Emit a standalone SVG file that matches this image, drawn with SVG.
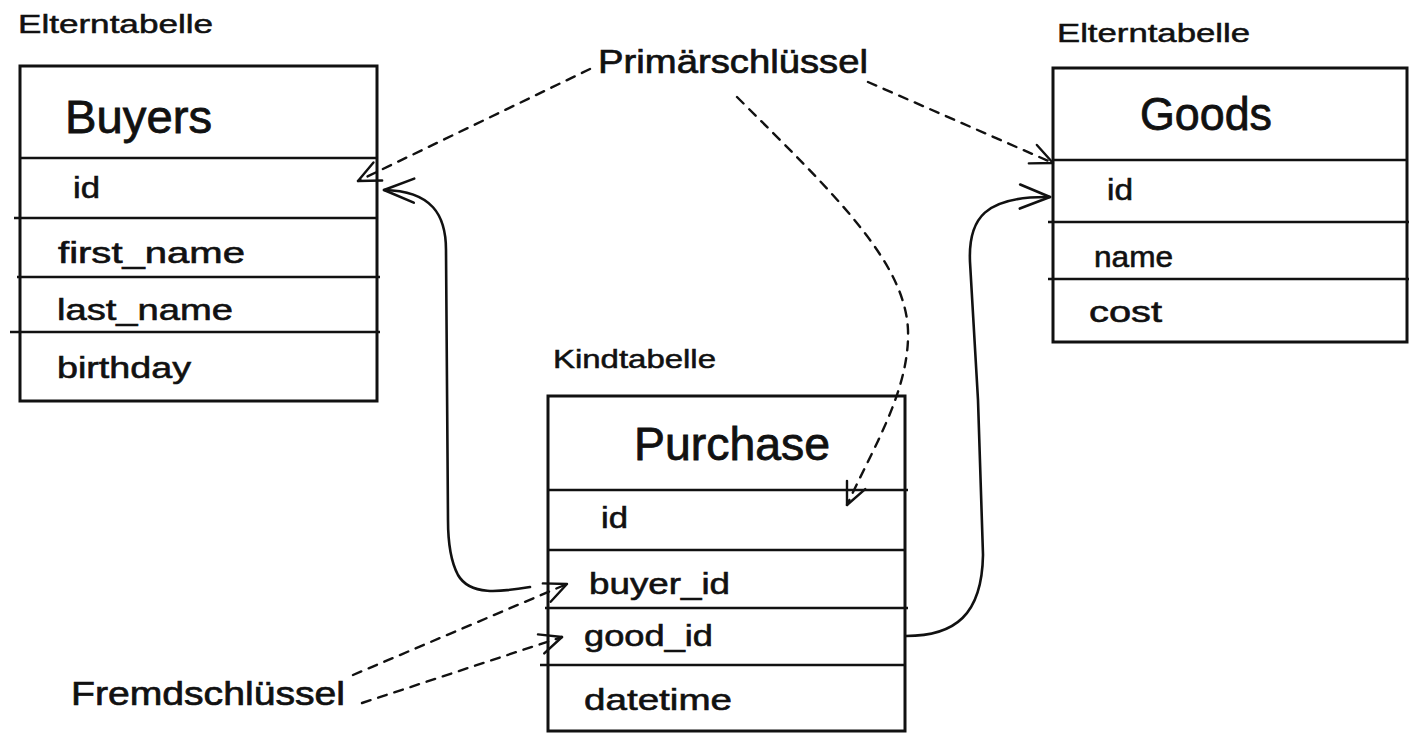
<svg xmlns="http://www.w3.org/2000/svg" width="1409" height="736" viewBox="0 0 1409 736">
<style>
text{font-family:"Liberation Sans","DejaVu Sans",sans-serif;fill:#111;stroke:#111;stroke-width:0.5}
.lbl{font-size:25px}
.ttl{font-size:46px;stroke-width:0.8}
.row{font-size:30px;stroke-width:0.6}
.note{font-size:34px;stroke-width:0.7}
.box{fill:#fff;stroke:#111;stroke-width:3}
.ln{stroke:#111;stroke-width:2.6;fill:none}
.conn{fill:none;stroke:#111;stroke-width:2.6;stroke-linecap:round}
.dash{stroke-dasharray:9 8;stroke-width:2.4}
</style>
<defs>
<marker id="arrL" markerUnits="userSpaceOnUse" viewBox="0 0 34 28" markerWidth="34" markerHeight="28" refX="32" refY="14" orient="auto">
<path d="M2 2 L32 14 L2 26" fill="none" stroke="#111" stroke-width="2.6" stroke-linecap="round" stroke-linejoin="round"/>
</marker>
<marker id="arrS" markerUnits="userSpaceOnUse" viewBox="0 0 26 24" markerWidth="26" markerHeight="24" refX="24" refY="12" orient="auto">
<path d="M2 2 L24 12 L2 22" fill="none" stroke="#111" stroke-width="2.4" stroke-linecap="round" stroke-linejoin="round"/>
</marker>
</defs>
<rect width="1409" height="736" fill="#fff"/>

<g id="buyers">
<text class="lbl" x="18" y="33" textLength="195" lengthAdjust="spacingAndGlyphs">Elterntabelle</text>
<rect class="box" x="20" y="66" width="357" height="335"/>
<line class="ln" x1="20" y1="158" x2="377" y2="158"/>
<line class="ln" x1="14" y1="218" x2="377" y2="218"/>
<line class="ln" x1="17" y1="277" x2="380" y2="277"/>
<line class="ln" x1="10" y1="332" x2="380" y2="332"/>
<text class="ttl" x="65" y="133" textLength="147" lengthAdjust="spacingAndGlyphs">Buyers</text>
<text class="row" x="73" y="198" textLength="27" lengthAdjust="spacingAndGlyphs">id</text>
<text class="row" x="58" y="263" textLength="187" lengthAdjust="spacingAndGlyphs">first_name</text>
<text class="row" x="57" y="320" textLength="176" lengthAdjust="spacingAndGlyphs">last_name</text>
<text class="row" x="57" y="378" textLength="134" lengthAdjust="spacingAndGlyphs">birthday</text>
</g>

<g id="goods">
<text class="lbl" x="1057" y="42" textLength="193" lengthAdjust="spacingAndGlyphs">Elterntabelle</text>
<rect class="box" x="1053" y="68" width="354" height="274"/>
<line class="ln" x1="1053" y1="160" x2="1407" y2="160"/>
<line class="ln" x1="1048" y1="222" x2="1409" y2="222"/>
<line class="ln" x1="1048" y1="279" x2="1409" y2="279"/>
<text class="ttl" x="1140" y="130" textLength="132" lengthAdjust="spacingAndGlyphs">Goods</text>
<text class="row" x="1107" y="200" textLength="26" lengthAdjust="spacingAndGlyphs">id</text>
<text class="row" x="1094" y="267" textLength="79" lengthAdjust="spacingAndGlyphs">name</text>
<text class="row" x="1089" y="322" textLength="73" lengthAdjust="spacingAndGlyphs">cost</text>
</g>

<g id="purchase">
<text class="lbl" x="553" y="368" textLength="163" lengthAdjust="spacingAndGlyphs">Kindtabelle</text>
<rect class="box" x="548" y="396" width="357" height="335"/>
<line class="ln" x1="548" y1="490" x2="908" y2="490"/>
<line class="ln" x1="548" y1="550" x2="905" y2="550"/>
<line class="ln" x1="545" y1="608" x2="908" y2="608"/>
<line class="ln" x1="540" y1="665" x2="906" y2="665"/>
<text class="ttl" x="634" y="460" textLength="196" lengthAdjust="spacingAndGlyphs">Purchase</text>
<text class="row" x="601" y="528" textLength="27" lengthAdjust="spacingAndGlyphs">id</text>
<text class="row" x="589" y="594" textLength="141" lengthAdjust="spacingAndGlyphs">buyer_id</text>
<text class="row" x="584" y="646" textLength="129" lengthAdjust="spacingAndGlyphs">good_id</text>
<text class="row" x="584" y="710" textLength="148" lengthAdjust="spacingAndGlyphs">datetime</text>
</g>

<g id="primaerschluessel">
<text class="note" x="598" y="73" textLength="270" lengthAdjust="spacingAndGlyphs">Primärschlüssel</text>
</g>

<g id="fremdschluessel">
<text class="note" x="71" y="705" textLength="274" lengthAdjust="spacingAndGlyphs">Fremdschlüssel</text>
</g>

<g id="connectors">
<path class="conn dash" d="M590 69 L358 181" marker-end="url(#arrS)"/>
<path class="conn dash" d="M868 82 L1053 163" marker-end="url(#arrS)"/>
<path class="conn dash" d="M737 97 C830 190 905 260 908 330 C910 390 872 450 847 505" marker-end="url(#arrS)"/>
<path class="conn dash" d="M353 675 L567 584" marker-end="url(#arrS)"/>
<path class="conn dash" d="M362 703 L562 637" marker-end="url(#arrS)"/>
<path class="conn" d="M530 587 C500 592 470 596 458 575 C450 560 448 540 448 520 L446 250 C446 215 432 191 384 190" marker-end="url(#arrL)"/>
<path class="conn" d="M906 636 C955 636 982 615 983 555 L978 400 L970 262 C968 218 985 196 1050 197" marker-end="url(#arrL)"/>
</g>
</svg>
